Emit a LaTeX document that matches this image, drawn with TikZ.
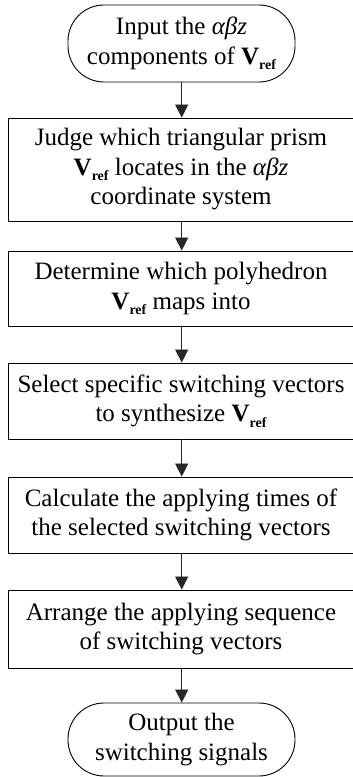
\documentclass[tikz,border=0pt]{standalone}
\usepackage{fontspec}
\setmainfont{Liberation Serif}
\usetikzlibrary{arrows.meta}
\newcommand\Vref{\textbf{V}\raisebox{-0.45ex}{\fontsize{14}{14}\selectfont\bfseries ref}}
\newcommand\abz{\textit{αβz}}
\tikzset{
  box/.style={draw=black, line width=0.9pt, minimum width=346pt, align=center, inner sep=0pt,
    font=\fontsize{25}{29.5}\selectfont},
  term/.style={draw=black, line width=0.9pt, minimum width=227pt, rounded corners=36pt, align=center, inner sep=0pt,
    font=\fontsize{25}{29.5}\selectfont},
  arr/.style={draw=black!85, line width=0.9pt, -{Triangle[width=13pt,length=13pt]}}
}
\begin{document}
\begin{tikzpicture}[x=1pt,y=1pt]
\useasboundingbox (0,0) rectangle (353,777);
\node[term, minimum height=77pt] (t1) at (181.5,733.5) {Input the \abz\\components of \Vref};
\node[box, minimum height=103pt] (b1) at (181,607.5) {Judge which triangular prism\\\Vref{} locates in the \abz\\coordinate system};
\node[box, minimum height=75pt] (b2) at (181,488.5) {Determine which polyhedron\\\Vref{} maps into};
\node[box, minimum height=76pt] (b3) at (181,376) {Select specific switching vectors\\to synthesize \Vref};
\node[box, minimum height=76pt] (b4) at (181,262) {Calculate the applying times of\\the selected switching vectors};
\node[box, minimum height=78pt] (b5) at (181,148) {Arrange the applying sequence\\of switching vectors};
\node[term, minimum height=73pt] (t2) at (181.5,37.5) {Output the\\switching signals};
\draw[arr] (t1.south -| 181.7,0) -- (b1.north -| 181.7,0);
\draw[arr] (b1.south -| 181.7,0) -- (b2.north -| 181.7,0);
\draw[arr] (b2.south -| 181.7,0) -- (b3.north -| 181.7,0);
\draw[arr] (b3.south -| 181.7,0) -- (b4.north -| 181.7,0);
\draw[arr] (b4.south -| 181.7,0) -- (b5.north -| 181.7,0);
\draw[arr] (b5.south -| 181.7,0) -- (t2.north -| 181.7,0);
\end{tikzpicture}
\end{document}
